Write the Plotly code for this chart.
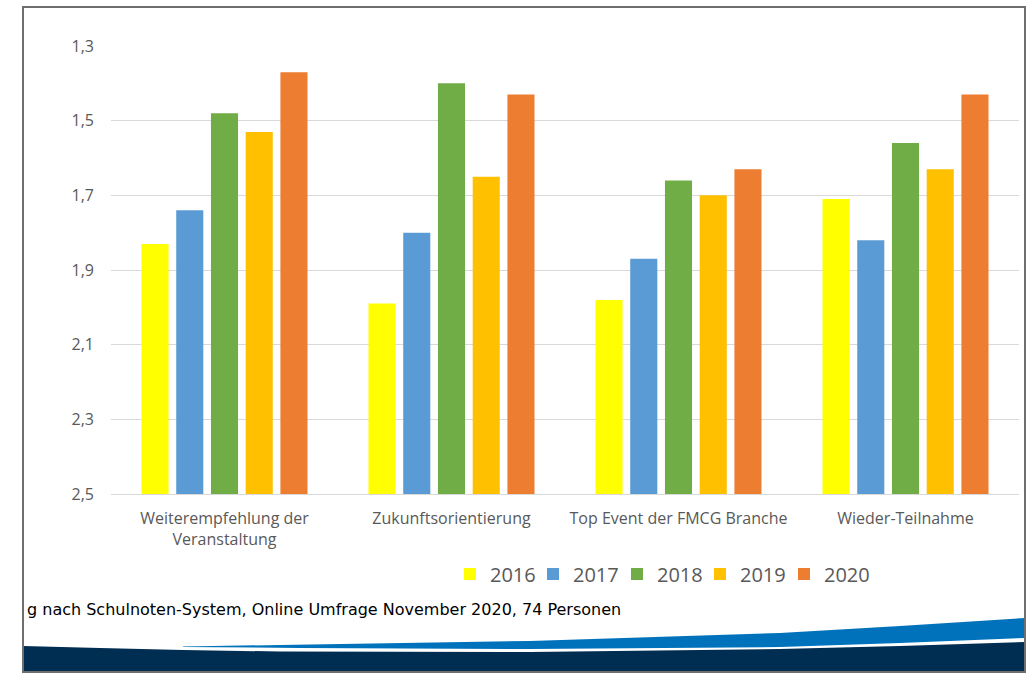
import plotly.graph_objects as go

categories = ["Weiterempfehlung der<br>Veranstaltung", "Zukunftsorientierung",
              "Top Event der FMCG Branche", "Wieder-Teilnahme"]
years = ["2016", "2017", "2018", "2019", "2020"]
v2016 = [1.83, 1.99, 1.98, 1.71]
v2017 = [1.74, 1.80, 1.87, 1.82]
v2018 = [1.48, 1.40, 1.66, 1.56]
v2019 = [1.53, 1.65, 1.70, 1.63]
v2020 = [1.37, 1.43, 1.63, 1.43]
series = [v2016, v2017, v2018, v2019, v2020]
colors = ["#FFFF00", "#5B9BD5", "#70AD47", "#FFC000", "#ED7D31"]
y_ticks = [1.3, 1.5, 1.7, 1.9, 2.1, 2.3, 2.5]
axis_base = 2.5
footnote = "g nach Schulnoten-System, Online Umfrage November 2020, 74 Personen"

W, H = 1030, 675
L, R, T, B = 111, 1019, 46, 494


def px(x, y):
    return (x - L) / (R - L), (B - y) / (B - T)


def path(points):
    s = ""
    for i, (x, y) in enumerate(points):
        X, Y = px(x, y)
        s += ("M" if i == 0 else "L") + f"{X:.5f},{Y:.5f} "
    return s + "Z"


legend_names = ["legend", "legend2", "legend3", "legend4", "legend5"]
marker_left = [464, 547, 631, 714, 798]

fig = go.Figure()
for name, vals, c, lg in zip(years, series, colors, legend_names):
    fig.add_trace(go.Bar(x=categories, y=[v - axis_base for v in vals],
                         base=[axis_base] * len(vals), name=name, marker_color=c,
                         marker_line_width=0, customdata=vals, legend=lg,
                         showlegend=True,
                         hovertemplate="%{x}: %{customdata}<extra>" + name + "</extra>"))

navy = [(23, 646), (100, 648), (183, 650), (280, 651.5), (530, 652), (780, 649),
        (900, 646), (1025, 642), (1025, 672), (23, 672)]
blue = [(183, 646.5), (280, 645), (530, 641), (780, 633), (900, 626), (1025, 618),
        (1025, 638), (900, 643), (780, 647), (530, 649), (300, 648), (183, 647)]

shapes = [
    dict(type="path", xref="paper", yref="paper", path=path(navy),
         fillcolor="#002D52", line=dict(width=0), layer="above"),
    dict(type="path", xref="paper", yref="paper", path=path(blue),
         fillcolor="#0072BC", line=dict(width=0), layer="above"),
]
x0, y0 = px(23, 672)
x1, y1 = px(1025, 7)
shapes.append(dict(type="rect", xref="paper", yref="paper", x0=x0, y0=y0, x1=x1, y1=y1,
                   line=dict(color="#6E6E6E", width=2), fillcolor="rgba(0,0,0,0)",
                   layer="above"))

legends = {}
for lg, ml in zip(legend_names, marker_left):
    legends[lg] = dict(orientation="h", x=px(ml - 14, 0)[0], xanchor="left",
                       y=px(0, 574)[1], yanchor="middle",
                       font=dict(size=20, color="#595959"), itemwidth=30,
                       bgcolor="rgba(0,0,0,0)")

fx, fy = px(25, 609)
fig.update_layout(
    width=W, height=H,
    margin=dict(l=L, r=W - R, t=T, b=H - B),
    paper_bgcolor="white", plot_bgcolor="white",
    separators=",.",
    showlegend=True,
    barmode="group", bargap=0.235, bargroupgap=0.22,
    font=dict(family="Open Sans", color="#595959"),
    xaxis=dict(showgrid=False, showline=True, linecolor="#D9D9D9", linewidth=1,
               ticks="", tickfont=dict(size=16, color="#595959"),
               ticklabelstandoff=10),
    yaxis=dict(range=[2.5, 1.2999], tickvals=y_ticks, tickformat=".1f",
               showgrid=True, gridcolor="#D9D9D9", gridwidth=1, zeroline=False,
               ticks="", tickfont=dict(size=16, color="#595959"),
               ticklabelstandoff=16),
    shapes=shapes,
    annotations=[dict(text=footnote, xref="paper", yref="paper", x=fx, y=fy,
                      xanchor="left", yanchor="middle", showarrow=False,
                      font=dict(family="DejaVu Sans", size=16, color="#000000"))],
    **legends,
)

fig.write_html("out.html", config={"displayModeBar": False},
               post_script="document.body.style.margin='0';document.body.style.overflow='hidden';")
